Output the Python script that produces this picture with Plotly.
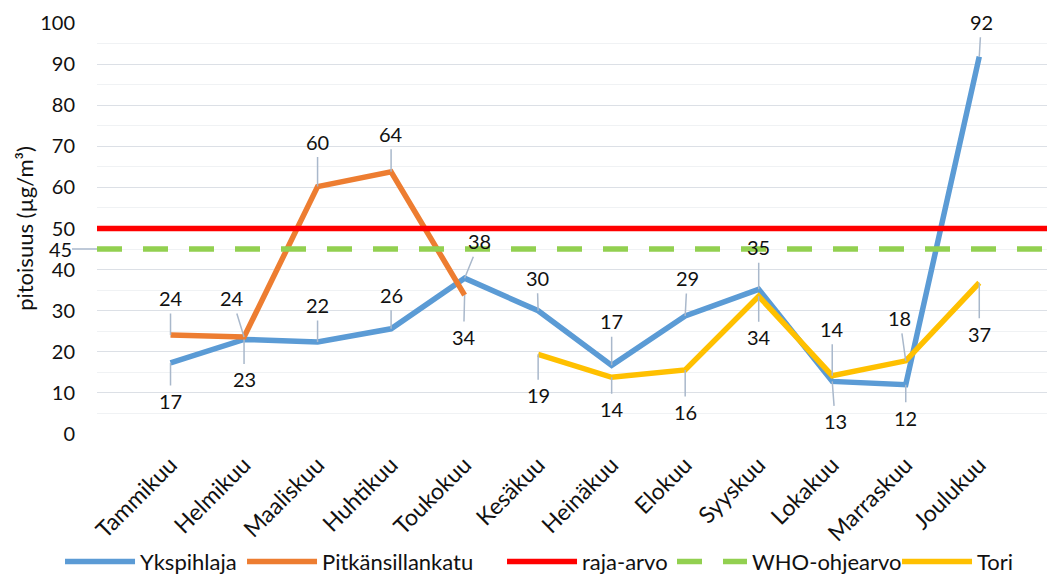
import plotly.graph_objects as go

months = ["Tammikuu", "Helmikuu", "Maaliskuu", "Huhtikuu", "Toukokuu", "Kesäkuu",
          "Heinäkuu", "Elokuu", "Syyskuu", "Lokakuu", "Marraskuu", "Joulukuu"]

ykspihlaja = [17.3, 23.0, 22.4, 25.6, 37.9, 30.0, 16.7, 28.7, 35.2, 12.8, 12.0, 91.8]
pitkansillankatu = [24.1, 23.6, 60.2, 63.8, 33.8]
tori = [19.4, 13.8, 15.6, 33.5, 14.2, 17.8, 36.8]
tori_start = 5  # Kesäkuu

raja_arvo = 50
who_ohjearvo = 45

# label offsets (pixels) relative to each point: (ax, ay)
yk_off = [(0, 38), (0, 40), (0, -37), (0, -34), (15, -37), (-1, -33),
          (0, -44), (2, -38), (0, -42), (3, 40), (0, 33), (2, -35)]
pk_off = [(0, -37), (-12, -39), (0, -45), (0, -38), (-1, 42)]
to_off = [(0, 41), (0, 32), (0, 42), (0, 41), (0, -47), (-6, -43), (0, 51)]

BLUE = "#5B9BD5"
ORANGE = "#ED7D31"
YELLOW = "#FFC000"
RED = "#FF0000"
GREEN = "#92D050"
FONT = "Lato"
TXT = "#111111"
LW = 5.5

x_all = list(range(len(months)))
fig = go.Figure()

fig.add_trace(go.Scatter(x=x_all, y=ykspihlaja, mode="lines", name="Ykspihlaja",
                         line=dict(color=BLUE, width=LW), legendrank=1, legendwidth=97))
fig.add_trace(go.Scatter(x=x_all[:len(pitkansillankatu)], y=pitkansillankatu, mode="lines",
                         name="Pitkänsillankatu", line=dict(color=ORANGE, width=LW),
                         legendrank=2, legendwidth=175))
fig.add_trace(go.Scatter(x=x_all[tori_start:tori_start + len(tori)], y=tori, mode="lines",
                         name="Tori", line=dict(color=YELLOW, width=LW), legendrank=5,
                         legendwidth=40))

fig.add_shape(type="line", xref="x domain", yref="y", x0=0, x1=1, y0=raja_arvo, y1=raja_arvo,
              line=dict(color=RED, width=LW), layer="above", showlegend=True,
              name="raja-arvo", legendrank=3, legendwidth=85)
fig.add_shape(type="line", xref="x domain", yref="y", x0=0, x1=1, y0=who_ohjearvo, y1=who_ohjearvo,
              line=dict(color=GREEN, width=LW, dash="25px,21px"), layer="above", showlegend=True,
              name="WHO-ohjearvo", legendrank=4, legendwidth=140)

LEADER = "#A9B8CB"
anns = []


def add_labels(xs, ys, offs):
    for xv, yv, (ax, ay) in zip(xs, ys, offs):
        anns.append(dict(x=xv, y=yv, xref="x", yref="y", text=f"{round(yv):d}",
                         showarrow=True, arrowhead=0, arrowwidth=1.5, arrowcolor=LEADER,
                         ax=ax, ay=ay, standoff=0, borderpad=3,
                         font=dict(family=FONT, size=20, color=TXT)))


add_labels(x_all, ykspihlaja, yk_off)
add_labels(x_all[:len(pitkansillankatu)], pitkansillankatu, pk_off)
add_labels(x_all[tori_start:tori_start + len(tori)], tori, to_off)
# WHO label at left edge
anns.append(dict(x=0, y=who_ohjearvo, xref="x domain", yref="y", text=str(who_ohjearvo),
                 showarrow=True, arrowhead=0, arrowwidth=1.5, arrowcolor=LEADER,
                 ax=-37, ay=0, standoff=0, borderpad=0,
                 font=dict(family=FONT, size=20, color=TXT)))

fig.update_layout(
    width=1047, height=568,
    margin=dict(l=89, r=0, t=15, b=142, autoexpand=False),
    paper_bgcolor="white", plot_bgcolor="white",
    font=dict(family=FONT, size=20, color=TXT),
    annotations=anns,
    showlegend=True,
    legend=dict(orientation="h", x=-0.0386, xanchor="left", y=-0.311, yanchor="middle",
                font=dict(family=FONT, size=22, color=TXT), traceorder="normal",
                itemwidth=70, bgcolor="rgba(0,0,0,0)"),
    xaxis=dict(range=[-1, 12.03], tickvals=x_all, ticktext=months, tickangle=-45,
               showgrid=False, zeroline=False, showline=False, ticks="", automargin=False,
               ticklabelstandoff=12, tickfont=dict(family=FONT, size=23, color=TXT)),
    yaxis=dict(range=[0, 100], dtick=10, tick0=0, showgrid=True, gridcolor="#DCE0E6", gridwidth=1.3,
               minor=dict(dtick=5, showgrid=True, gridcolor="#F0F2F4", gridwidth=1.3),
               zeroline=False, showline=False, ticks="", ticklabelstandoff=21, automargin=False,
               tickfont=dict(family=FONT, size=20, color=TXT),
               title=dict(text="pitoisuus (µg/m³)", standoff=0,
                          font=dict(family=FONT, size=22, color=TXT))),
)

fig.write_html("out.html")
